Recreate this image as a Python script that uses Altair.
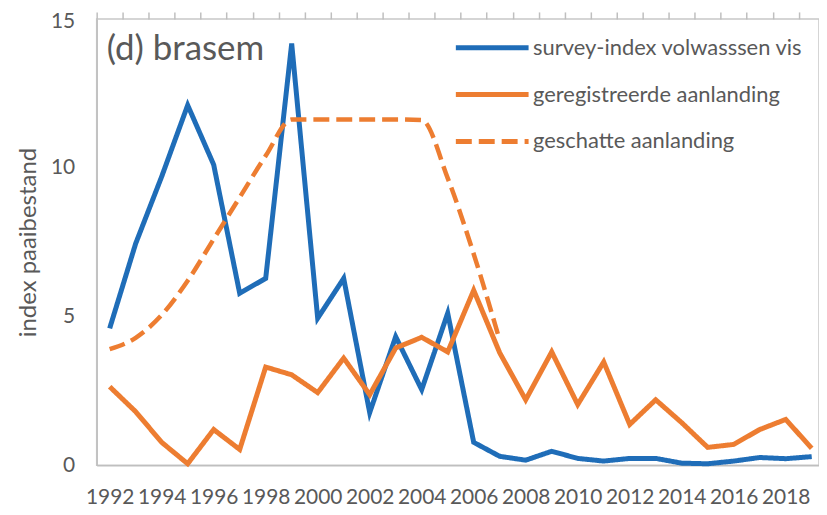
import altair as alt
import pandas as pd

years = list(range(1992, 2020))
survey = [4.6, 7.45, 9.7, 12.1, 10.1, 5.78, 6.28, 14.17, 4.94, 6.28, 1.77, 4.32,
          2.54, 5.11, 0.77, 0.30, 0.17, 0.47, 0.23, 0.14, 0.23, 0.23, 0.07, 0.05,
          0.14, 0.26, 0.22, 0.29]
registered = [2.64, 1.8, 0.77, 0.05, 1.2, 0.53, 3.3, 3.04, 2.44, 3.6, 2.37, 3.94,
              4.3, 3.81, 5.88, 3.78, 2.2, 3.81, 2.04, 3.47, 1.37, 2.2, 1.43, 0.6,
              0.7, 1.2, 1.54, 0.57]
est_years = list(range(1992, 2008))
estimated = [3.9, 4.28, 5.05, 6.2, 7.6, 9.0, 10.4, 11.62, 11.62, 11.62, 11.62,
             11.62, 11.6, 9.65, 7.1, 4.2]

names = ["survey-index volwasssen vis", "geregistreerde aanlanding", "geschatte aanlanding"]
label_years = list(range(1992, 2019, 2))
tick_pos = [1991.5 + k for k in range(28)]

rows = []
for y, v in zip(years, survey):
    rows.append({"jaar": y, "waarde": v, "reeks": names[0]})
for y, v in zip(years, registered):
    rows.append({"jaar": y, "waarde": v, "reeks": names[1]})
solid_df = pd.DataFrame(rows)
dash_df = pd.DataFrame({"jaar": est_years, "waarde": estimated, "reeks": names[2]})

TXT = "#595959"
FONT = "Lato"

legend = alt.Legend(title=None, orient="none", legendX=358, legendY=19,
                    symbolType="stroke", symbolSize=5329, symbolStrokeWidth=5,
                    clipHeight=20, rowPadding=25, labelOffset=2, padding=0,
                    labelFontSize=22, labelFont=FONT, labelColor=TXT,
                    labelLimit=400)

color = alt.Color("reeks:N", scale=alt.Scale(domain=names,
                  range=["#1f6db8", "#ed7d31", "#ed7d31"]), legend=legend)
dash = alt.StrokeDash("reeks:N", scale=alt.Scale(domain=names,
                      range=[[1, 0], [1, 0], [16, 7]]), legend=legend)
xscale = alt.Scale(domain=[1991.5, 2019.28], nice=False, zero=False)
yaxis = alt.Axis(values=[0, 5, 10, 15], tickSize=0, labelPadding=22, grid=False,
                 labelOffset={"condition": {"test": "datum.value == 15", "value": 3},
                              "value": 0},
                 title="index paaibestand", titlePadding=10, titleFontSize=24,
                 titleFont=FONT, titleColor=TXT, titleFontWeight="normal",
                 labelFontSize=21, labelFont=FONT, labelColor=TXT,
                 domainColor="#bfbfbf", domainWidth=1.5)
yscale = alt.Scale(domain=[0, 15], nice=False)

solid = alt.Chart(solid_df).mark_line(strokeWidth=5).encode(
    x=alt.X("jaar:Q", scale=xscale,
            axis=alt.Axis(values=label_years, format="d", tickSize=0, labelPadding=21,
                          title=None, grid=False, labelFontSize=21, labelFont=FONT,
                          labelColor=TXT, domainColor="#bfbfbf", domainWidth=1.5,
                          labelFlush=False, labelOverlap=False)),
    y=alt.Y("waarde:Q", scale=yscale, axis=yaxis),
    color=color,
    strokeDash=dash,
)

dashed = alt.Chart(dash_df).mark_line(strokeWidth=4.5, interpolate="monotone").encode(
    x=alt.X("jaar:Q", scale=xscale,
            axis=alt.Axis(values=tick_pos, labels=False, tickSize=7, tickColor="#bfbfbf",
                          tickWidth=1.5, domain=False, grid=False, title=None)),
    y=alt.Y("waarde:Q", scale=yscale, axis=yaxis),
    color=color,
    strokeDash=dash,
)

chart = alt.layer(solid, dashed).resolve_axis(x="independent").properties(
    width=725, height=448, autosize="none",
    padding={"left": 89, "top": 10, "right": 0, "bottom": 48},
    title=alt.TitleParams("(d) brasem", anchor="start", frame="group", fontSize=35,
                          font=FONT, color=TXT, fontWeight="normal", dx=10, dy=60,
                          baseline="top"),
).configure_view(stroke="#c8c8c8", strokeWidth=1.5)

chart.save("out.html", embed_options={"renderer": "svg", "actions": False})
